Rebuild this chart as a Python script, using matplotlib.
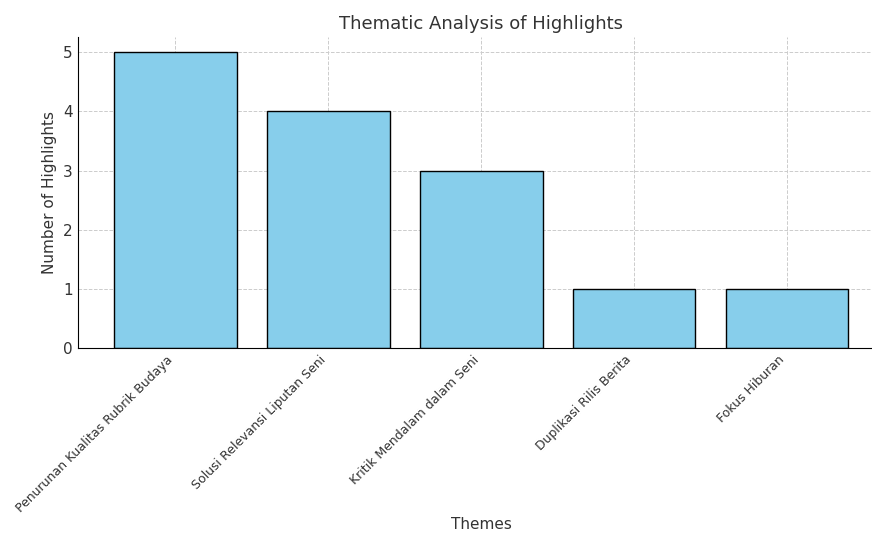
import numpy as np
import matplotlib.pyplot as plt

themes = ["Penurunan Kualitas Rubrik Budaya", "Solusi Relevansi Liputan Seni",
          "Kritik Mendalam dalam Seni", "Duplikasi Rilis Berita", "Fokus Hiburan"]
counts = [5, 4, 3, 1, 1]

plt.rcParams['text.color'] = '#333333'
plt.rcParams['axes.labelcolor'] = '#333333'
plt.rcParams['xtick.color'] = '#333333'
plt.rcParams['ytick.color'] = '#333333'

fig, ax = plt.subplots(figsize=(8.72, 5.34), dpi=100)
ax.bar(themes, counts, color='skyblue', edgecolor='black', zorder=2)
ax.set_title("Thematic Analysis of Highlights", fontsize=13)
ax.set_xlabel("Themes", fontsize=11, labelpad=2)
ax.set_ylabel("Number of Highlights", fontsize=11)
ax.grid(True, linestyle='--', color='#cccccc', linewidth=0.7, zorder=0)
ax.set_axisbelow(True)
plt.xticks(rotation=45, ha='right', fontsize=9)
plt.yticks(fontsize=11)
ax.tick_params(length=0)
ax.spines['top'].set_visible(False)
ax.spines['right'].set_visible(False)
fig.subplots_adjust(left=0.089, right=1.015, top=0.93, bottom=0.348)
fig.savefig("out.png", dpi=100)
